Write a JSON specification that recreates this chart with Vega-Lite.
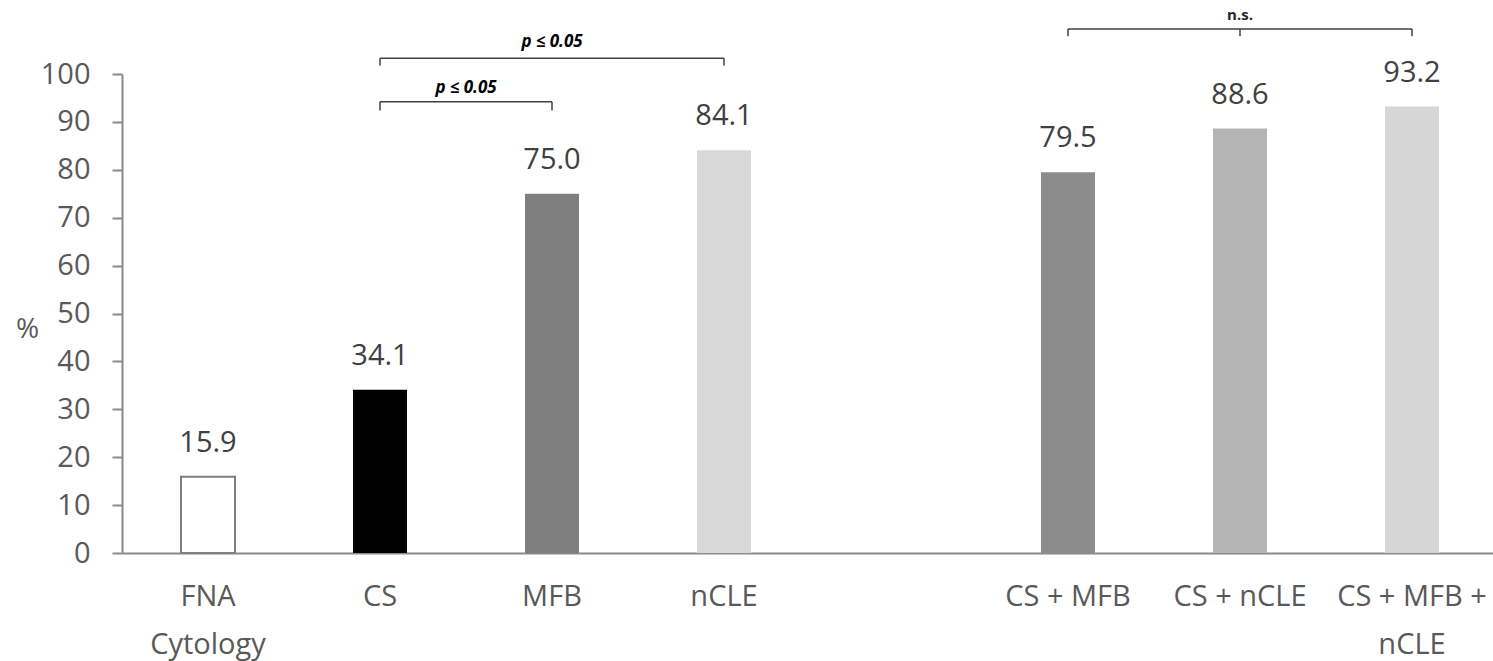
{
  "$schema": "https://vega.github.io/schema/vega-lite/v6.json",
  "width": 1371,
  "height": 479,
  "autosize": {"type": "none"},
  "padding": {"left": 122, "top": 74, "right": 0, "bottom": 108},
  "background": "white",
  "config": {"view": {"stroke": null}, "font": "Open Sans"},
  "layer": [
    {
      "data": {"values": [
        {"cat": "FNA Cytology", "v": 15.9},
        {"cat": "CS", "v": 34.1},
        {"cat": "MFB", "v": 75.0},
        {"cat": "nCLE", "v": 84.1},
        {"cat": "CS + MFB", "v": 79.5},
        {"cat": "CS + nCLE", "v": 88.6},
        {"cat": "CS + MFB + nCLE", "v": 93.2}
      ]},
      "layer": [
        {
          "mark": {"type": "bar", "width": {"band": 0.314}, "strokeWidth": 2},
          "encoding": {
            "x": {
              "field": "cat", "type": "nominal",
              "scale": {
                "domain": ["FNA Cytology", "CS", "MFB", "nCLE", "gap", "CS + MFB", "CS + nCLE", "CS + MFB + nCLE"],
                "range": [0, 1376], "paddingInner": 0, "paddingOuter": 0
              },
              "axis": {
                "title": null, "ticks": false, "labelAngle": 0,
                "domainColor": "#8a8a8a", "domainWidth": 2,
                "labelFontSize": 29, "labelColor": "#595959",
                "labelPadding": 29, "labelBaseline": "top", "labelLineHeight": 48,
                "labelExpr": "datum.value == 'FNA Cytology' ? ['FNA', 'Cytology'] : datum.value == 'CS + MFB + nCLE' ? ['CS + MFB +', 'nCLE'] : datum.value == 'gap' ? '' : datum.value"
              }
            },
            "y": {
              "field": "v", "type": "quantitative",
              "scale": {"domain": [0, 100], "nice": false},
              "axis": {
                "title": "%", "titleAngle": 0, "titleFontSize": 28, "titleFontWeight": "normal",
                "titleColor": "#595959", "titleX": -95, "titleY": 255, "titleAlign": "center", "titleBaseline": "middle",
                "values": [0, 10, 20, 30, 40, 50, 60, 70, 80, 90, 100],
                "grid": false, "domainColor": "#8a8a8a", "domainWidth": 2,
                "tickColor": "#8a8a8a", "tickWidth": 2, "tickSize": 10,
                "labelFontSize": 29, "labelColor": "#595959", "labelPadding": 22
              }
            },
            "fill": {
              "field": "cat", "type": "nominal", "legend": null,
              "scale": {
                "domain": ["FNA Cytology", "CS", "MFB", "nCLE", "CS + MFB", "CS + nCLE", "CS + MFB + nCLE"],
                "range": ["#ffffff", "#000000", "#7f7f7f", "#d9d9d9", "#8c8c8c", "#b4b4b4", "#d6d6d6"]
              }
            },
            "stroke": {
              "condition": {"test": "datum.cat == 'FNA Cytology'", "value": "#7f7f7f"},
              "value": null
            }
          }
        },
        {
          "mark": {"type": "text", "fontSize": 29, "color": "#404040", "baseline": "alphabetic", "dy": -25},
          "encoding": {
            "x": {"field": "cat", "type": "nominal"},
            "y": {"field": "v", "type": "quantitative"},
            "text": {"field": "v", "type": "quantitative", "format": ".1f"}
          }
        }
      ]
    },
    {
      "data": {"values": [
        {"cat": "CS", "cat2": "MFB", "v": 94.2},
        {"cat": "CS", "cat2": "nCLE", "v": 103.3},
        {"cat": "CS + MFB", "cat2": "CS + MFB + nCLE", "v": 109.4}
      ]},
      "mark": {"type": "rule", "color": "#404040", "strokeWidth": 1.5},
      "encoding": {
        "x": {"field": "cat", "type": "nominal", "bandPosition": 0.5},
        "x2": {"field": "cat2", "bandPosition": 0.5},
        "y": {"field": "v", "type": "quantitative"}
      }
    },
    {
      "data": {"values": [
        {"cat": "CS", "v": 92.4, "v2": 94.2},
        {"cat": "MFB", "v": 92.4, "v2": 94.2},
        {"cat": "CS", "v": 101.8, "v2": 103.3},
        {"cat": "nCLE", "v": 101.8, "v2": 103.3},
        {"cat": "CS + MFB", "v": 107.9, "v2": 109.4},
        {"cat": "CS + nCLE", "v": 107.9, "v2": 109.4},
        {"cat": "CS + MFB + nCLE", "v": 107.9, "v2": 109.4}
      ]},
      "mark": {"type": "rule", "color": "#404040", "strokeWidth": 1.5},
      "encoding": {
        "x": {"field": "cat", "type": "nominal", "bandPosition": 0.5},
        "y": {"field": "v", "type": "quantitative"},
        "y2": {"field": "v2"}
      }
    },
    {
      "data": {"values": [{"cat": "CS", "v": 96.0, "t": "p ≤ 0.05"}]},
      "mark": {"type": "text", "fontSize": 17, "fontWeight": "bold", "fontStyle": "italic", "color": "#000000", "baseline": "alphabetic"},
      "encoding": {
        "x": {"field": "cat", "type": "nominal", "bandPosition": 1},
        "y": {"field": "v", "type": "quantitative"},
        "text": {"field": "t"}
      }
    },
    {
      "data": {"values": [{"cat": "MFB", "v": 105.6, "t": "p ≤ 0.05"}]},
      "mark": {"type": "text", "fontSize": 17, "fontWeight": "bold", "fontStyle": "italic", "color": "#000000", "baseline": "alphabetic"},
      "encoding": {
        "x": {"field": "cat", "type": "nominal", "bandPosition": 0.5},
        "y": {"field": "v", "type": "quantitative"},
        "text": {"field": "t"}
      }
    },
    {
      "data": {"values": [{"cat": "CS + nCLE", "v": 111.3, "t": "n.s."}]},
      "mark": {"type": "text", "fontSize": 15, "fontWeight": "bold", "color": "#262626", "baseline": "alphabetic"},
      "encoding": {
        "x": {"field": "cat", "type": "nominal", "bandPosition": 0.5},
        "y": {"field": "v", "type": "quantitative"},
        "text": {"field": "t"}
      }
    }
  ]
}
